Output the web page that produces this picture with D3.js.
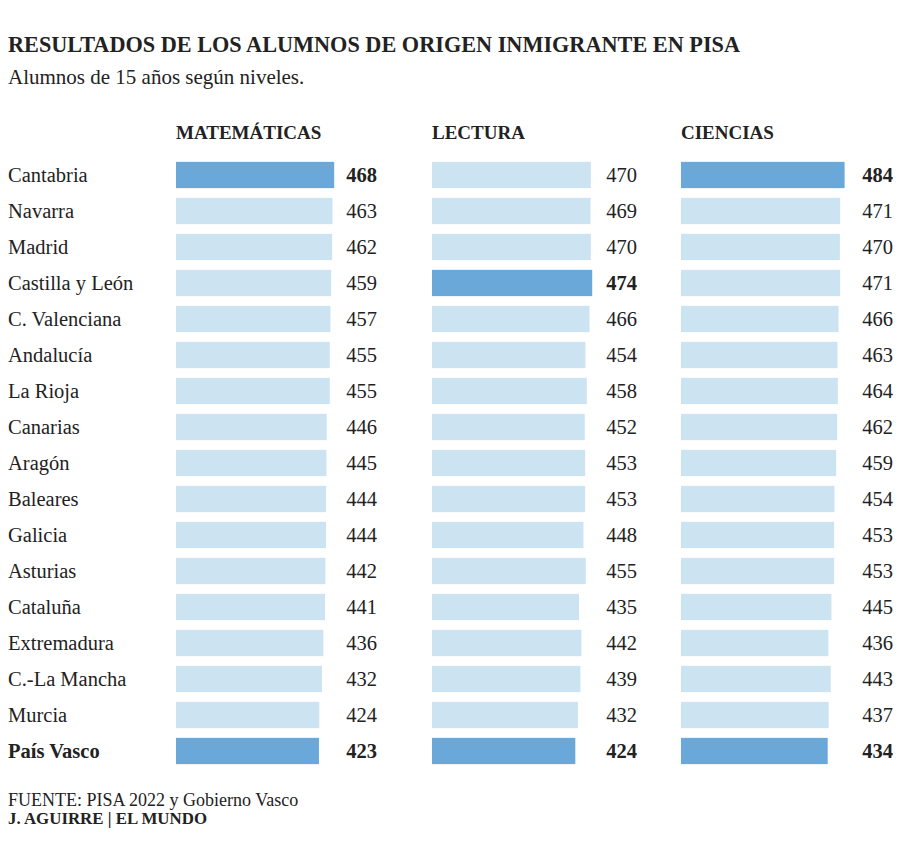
<html>
<head>
  <meta charset="utf-8">
  <script src="https://d3js.org/d3.v7.min.js"></script>
  <style>
    body { margin: 0; background: #fff; }
    svg text { font-family: "Liberation Serif", "DejaVu Serif", serif; fill: #222; }
  </style>
</head>
<body>
  <svg id="chart" width="900" height="853"></svg>
  <script>
    // data
    var regions = ["Cantabria", "Navarra", "Madrid", "Castilla y León", "C. Valenciana", "Andalucía",
                   "La Rioja", "Canarias", "Aragón", "Baleares", "Galicia", "Asturias", "Cataluña",
                   "Extremadura", "C.-La Mancha", "Murcia", "País Vasco"];
    var subjects = ["MATEMÁTICAS", "LECTURA", "CIENCIAS"];
    var matematicas = [468, 463, 462, 459, 457, 455, 455, 446, 445, 444, 444, 442, 441, 436, 432, 424, 423];
    var lectura     = [470, 469, 470, 474, 466, 454, 458, 452, 453, 453, 448, 455, 435, 442, 439, 432, 424];
    var ciencias    = [484, 471, 470, 471, 466, 463, 464, 462, 459, 454, 453, 453, 445, 436, 443, 437, 434];
    var series = [matematicas, lectura, ciencias];

    var svg = d3.select("#chart");

    // header
    svg.append("text").attr("x", 8).attr("y", 52)
      .style("font-size", "23px").style("font-weight", "bold").attr("fill", "#111")
      .attr("textLength", 732).attr("lengthAdjust", "spacingAndGlyphs")
      .text("RESULTADOS DE LOS ALUMNOS DE ORIGEN INMIGRANTE EN PISA");
    svg.append("text").attr("x", 8).attr("y", 84)
      .style("font-size", "21px").attr("fill", "#333")
      .text("Alumnos de 15 años según niveles.");

    // rows
    var y = d3.scaleBand().domain(regions).range([157, 769]).paddingInner(0.27).paddingOuter(0.135);
    var x = d3.scaleLinear().domain([0, 500]).range([0, 169]);

    var panelX = [176, 432, 681];   // bar starts
    var valueX = [377, 637, 893];   // right edge of numbers
    var highlight = [["Cantabria", "País Vasco"], ["Castilla y León", "País Vasco"], ["Cantabria", "País Vasco"]];

    svg.selectAll(".region").data(regions).enter().append("text")
      .attr("class", "region")
      .attr("x", 8)
      .attr("y", d => y(d) + y.bandwidth() / 2)
      .attr("dy", "0.35em")
      .style("font-size", "20.5px")
      .style("font-weight", d => d === "País Vasco" ? "bold" : "normal")
      .attr("fill", d => d === "País Vasco" ? "#111" : "#383838")
      .text(d => d);

    subjects.forEach(function(s, i) {
      var g = svg.append("g").attr("transform", "translate(" + panelX[i] + ",0)");
      g.append("text").attr("x", 0).attr("y", 139)
        .style("font-size", "19px").style("font-weight", "bold").attr("fill", "#111")
        .text(s);

      var rows = regions.map((r, j) => ({ region: r, value: series[i][j], hot: highlight[i].indexOf(r) >= 0 }));

      g.selectAll("rect").data(rows).enter().append("rect")
        .attr("x", 0)
        .attr("y", d => y(d.region))
        .attr("height", y.bandwidth())
        .attr("width", d => x(d.value))
        .attr("fill", d => d.hot ? "#6aa8da" : "#cce3f2");

      g.selectAll(".val").data(rows).enter().append("text")
        .attr("class", "val")
        .attr("x", valueX[i] - panelX[i])
        .attr("y", d => y(d.region) + y.bandwidth() / 2)
        .attr("dy", "0.35em")
        .attr("text-anchor", "end")
        .style("font-size", "20.5px")
        .style("font-weight", d => d.hot ? "bold" : "normal")
        .attr("fill", d => d.hot ? "#111" : "#383838")
        .text(d => d.value);
    });

    // footer
    svg.append("text").attr("x", 8).attr("y", 806)
      .style("font-size", "18px").attr("fill", "#333")
      .text("FUENTE: PISA 2022 y Gobierno Vasco");
    svg.append("text").attr("x", 8).attr("y", 824)
      .style("font-size", "17px").style("font-weight", "bold").attr("fill", "#111")
      .attr("textLength", 199).attr("lengthAdjust", "spacingAndGlyphs")
      .text("J. AGUIRRE | EL MUNDO");
  </script>
</body>
</html>
